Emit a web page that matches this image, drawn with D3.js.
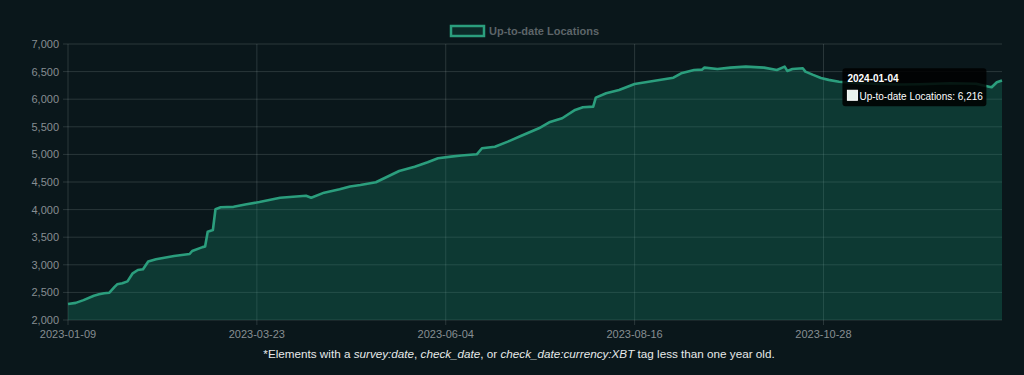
<!DOCTYPE html>
<html>
<head>
<meta charset="utf-8">
<script src="https://cdn.jsdelivr.net/npm/d3@7"></script>
<style>
  html, body { margin: 0; padding: 0; background: #0a171b; }
  #chart { width: 1024px; height: 375px; }
  text { font-family: "Liberation Sans", Arial, sans-serif; }
</style>
</head>
<body>
<div id="chart"></div>
<script>
// data
let dates = ["2023-01-09","2023-01-12","2023-01-15","2023-01-19","2023-01-21","2023-01-23","2023-01-25","2023-01-27","2023-01-28","2023-01-30",
  "2023-02-01","2023-02-03","2023-02-05","2023-02-07","2023-02-09","2023-02-12","2023-02-19","2023-02-25","2023-02-26",
  "2023-03-02","2023-03-03","2023-03-04","2023-03-06","2023-03-07","2023-03-09","2023-03-14","2023-03-19","2023-03-24",
  "2023-04-01","2023-04-11","2023-04-13","2023-04-18","2023-04-24","2023-04-28",
  "2023-05-02","2023-05-08","2023-05-12","2023-05-17","2023-05-23","2023-05-28",
  "2023-06-01","2023-06-06","2023-06-10","2023-06-16","2023-06-18","2023-06-23","2023-06-28",
  "2023-07-03","2023-07-10","2023-07-14","2023-07-19","2023-07-24","2023-07-27","2023-07-31",
  "2023-08-01","2023-08-05","2023-08-10","2023-08-14","2023-08-16","2023-08-22","2023-08-31",
  "2023-09-03","2023-09-08","2023-09-11","2023-09-12","2023-09-17","2023-09-22","2023-09-28",
  "2023-10-05","2023-10-10","2023-10-13","2023-10-14","2023-10-16","2023-10-20","2023-10-21","2023-10-24","2023-10-27","2023-10-30",
  "2023-11-03","2023-11-11","2023-11-19","2023-11-27",
  "2023-12-04","2023-12-16","2023-12-26","2023-12-31",
  "2024-01-01","2024-01-03","2024-01-05"];
let locations = [2290,2310,2360,2440,2465,2484,2495,2600,2646,2665,
  2700,2846,2906,2918,3060,3100,3160,3196,3250,
  3320,3330,3600,3630,4006,4042,4050,4096,4138,
  4216,4252,4216,4307,4368,4420,
  4446,4495,4586,4700,4778,4858,
  4930,4959,4980,5002,5111,5140,5231,
  5334,5473,5582,5655,5805,5854,5865,
  6028,6108,6168,6240,6276,6320,6390,
  6470,6530,6535,6572,6548,6572,6590,
  6572,6530,6590,6512,6548,6560,6500,6440,6385,6350,
  6315,6290,6275,6265,
  6270,6290,6280,6227,
  6216,6307,6340];
let xTickLabels = ["2023-01-09","2023-03-23","2023-06-04","2023-08-16","2023-10-28"];
let yTicks = [2000,2500,3000,3500,4000,4500,5000,5500,6000,6500,7000];
let seriesName = "Up-to-date Locations";
let tipDate = "2024-01-04";
let tipValue = 6216;

let parse = d3.timeParse("%Y-%m-%d");
let data = dates.map((d, i) => ({date: parse(d), value: locations[i]}));

let width = 1024, height = 375;
let margin = {left: 68, right: 22, top: 44, bottom: 55};

let svg = d3.select("#chart").append("svg")
  .attr("width", width)
  .attr("height", height);

let x = d3.scaleTime()
  .domain([parse("2023-01-09"), parse("2024-01-05")])
  .range([margin.left, width - margin.right]);
let y = d3.scaleLinear()
  .domain([2000, 7000])
  .range([height - margin.bottom, margin.top]);

let gridColor = "rgba(200,215,215,0.17)";

// horizontal grid + ticks
svg.append("g")
  .selectAll("line")
  .data(yTicks)
  .join("line")
  .attr("x1", margin.left - 5)
  .attr("x2", width - margin.right)
  .attr("y1", d => y(d))
  .attr("y2", d => y(d))
  .attr("stroke", gridColor)
  .attr("stroke-width", 1);

// vertical grid + ticks
svg.append("g")
  .selectAll("line")
  .data(xTickLabels)
  .join("line")
  .attr("x1", d => x(parse(d)))
  .attr("x2", d => x(parse(d)))
  .attr("y1", margin.top)
  .attr("y2", height - margin.bottom + 5)
  .attr("stroke", gridColor)
  .attr("stroke-width", 1);

// area + line
let area = d3.area()
  .x(d => x(d.date))
  .y0(y(2000))
  .y1(d => y(d.value));
let line = d3.line()
  .x(d => x(d.date))
  .y(d => y(d.value));

svg.append("path")
  .datum(data)
  .attr("d", area)
  .attr("fill", "rgba(22,135,108,0.3)");

svg.append("path")
  .datum(data)
  .attr("d", line)
  .attr("fill", "none")
  .attr("stroke", "#2b9e7d")
  .attr("stroke-width", 2.6)
  .attr("stroke-linejoin", "round");

// axis labels
svg.append("g")
  .selectAll("text")
  .data(yTicks)
  .join("text")
  .attr("x", margin.left - 9)
  .attr("y", d => y(d) + 4)
  .attr("text-anchor", "end")
  .attr("font-size", 11)
  .attr("fill", "#878e92")
  .text(d => d3.format(",")(d));

svg.append("g")
  .selectAll("text")
  .data(xTickLabels)
  .join("text")
  .attr("x", d => x(parse(d)))
  .attr("y", height - margin.bottom + 18)
  .attr("text-anchor", "middle")
  .attr("font-size", 11)
  .attr("fill", "#878e92")
  .text(d => d);

// legend
svg.append("rect")
  .attr("x", 451)
  .attr("y", 26)
  .attr("width", 33)
  .attr("height", 10)
  .attr("fill", "#0c2a28")
  .attr("stroke", "#2b9e7d")
  .attr("stroke-width", 2.5);
svg.append("text")
  .attr("x", 489)
  .attr("y", 35)
  .attr("font-size", 11)
  .attr("font-weight", "bold")
  .attr("fill", "#5d6569")
  .text(seriesName);

// tooltip
let tx = x(parse(tipDate)) - 13, ty = y(tipValue);
let tip = svg.append("g").attr("transform", `translate(${tx - 144},${ty - 19})`);
tip.append("rect")
  .attr("width", 144)
  .attr("height", 38)
  .attr("rx", 3)
  .attr("fill", "rgba(0,0,0,0.85)");
tip.append("text")
  .attr("x", 5)
  .attr("y", 14)
  .attr("font-size", 10)
  .attr("font-weight", "bold")
  .attr("fill", "#fff")
  .text(tipDate);
tip.append("rect")
  .attr("x", 5)
  .attr("y", 22)
  .attr("width", 10)
  .attr("height", 10)
  .attr("fill", "#e8f2ee")
  .attr("stroke", "#fff")
  .attr("stroke-width", 1);
tip.append("text")
  .attr("x", 17)
  .attr("y", 31.5)
  .attr("font-size", 10)
  .attr("fill", "#fff")
  .text(seriesName + ": " + d3.format(",")(tipValue));

// footnote
let foot = svg.append("text")
  .attr("x", 519)
  .attr("y", 358)
  .attr("text-anchor", "middle")
  .attr("font-family", "Roboto, sans-serif")
  .attr("font-size", 11.7)
  .attr("fill", "#e6e9ea");
foot.append("tspan").text("*Elements with a ");
foot.append("tspan").attr("font-style", "italic").text("survey:date");
foot.append("tspan").text(", ");
foot.append("tspan").attr("font-style", "italic").text("check_date");
foot.append("tspan").text(", or ");
foot.append("tspan").attr("font-style", "italic").text("check_date:currency:XBT");
foot.append("tspan").text(" tag less than one year old.");
</script>
</body>
</html>
